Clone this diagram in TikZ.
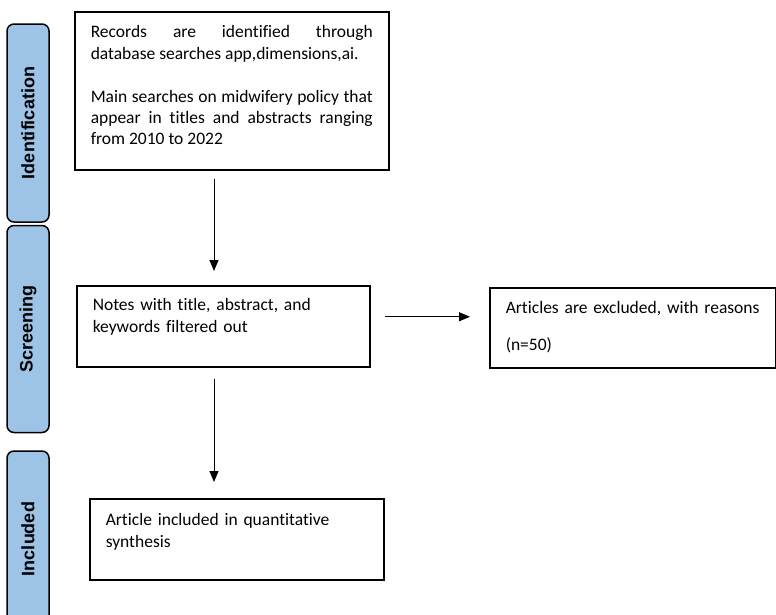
\documentclass[tikz,border=0pt]{standalone}
\usepackage{fontspec}
\usetikzlibrary{arrows.meta}
\setmainfont{Carlito}[Ligatures=NoCommon]
\newfontfamily\stagefont{Liberation Sans}
\definecolor{stageblue}{RGB}{157,195,230}

\begin{document}
\begin{tikzpicture}[x=1pt, y=-1pt,
    stage/.style={draw=black, fill=stageblue, line width=1.5pt, rounded corners=7pt, rotate=90,
        minimum height=42pt, inner sep=0pt, font=\stagefont\bfseries\fontsize{18}{20}\selectfont},
    flowbox/.style={draw=black, line width=1.5pt, anchor=north west, inner xsep=16pt, inner ysep=0pt,
        align=left, font=\fontsize{17.5}{21.4}\selectfont},
    arr/.style={line width=1pt, -{Triangle[width=9pt,length=11pt]}}]
    \useasboundingbox (0,0) rectangle (776,614);

    \node (ident)[stage, minimum width=198pt] at (28, 123) {Identification};
    \node (screen)[stage, minimum width=207pt] at (28, 329) {Screening};
    \begin{scope}
        \clip (0,0) rectangle (776,614);
        \node (incl)[stage, minimum width=176pt] at (28, 539) {Included};
    \end{scope}

    \node (records)[flowbox, align=justify, text width=282pt, text height=26pt, text depth=132pt] at (74, 11)
        {Records are identified through\linebreak database searches app,dimensions,ai.\par\vspace{21.5pt}
         Main searches on midwifery policy that appear in titles and abstracts ranging from 2010 to 2022};
    \node (notes)[flowbox, text width=261pt, text height=25pt, text depth=56pt] at (76, 285)
        {Notes with title, abstract, and\\keywords filtered out};
    \node (excluded)[flowbox, text width=254pt, text height=26pt, text depth=54pt] at (489, 287)
        {Articles are excluded, with reasons\\[15.6pt](n=50)};
    \node (synth)[flowbox, text width=262pt, text height=27pt, text depth=54pt] at (89, 498)
        {Article included in quantitative\\synthesis};

    \draw[arr] ([xshift=140pt, yshift=-8pt]records.south west) -- ([xshift=138pt, yshift=14pt]notes.north west);
    \draw[arr] ([xshift=14pt, yshift=9.5pt]notes.east) -- ([xshift=-19pt, yshift=11pt]excluded.west);
    \draw[arr] ([xshift=138pt, yshift=-11pt]notes.south west) -- ([xshift=125pt, yshift=16pt]synth.north west);

\end{tikzpicture}
\end{document}
